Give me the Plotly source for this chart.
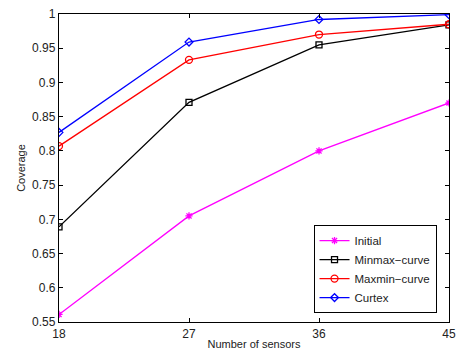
import plotly.graph_objects as go

sensors = [18, 27, 36, 45]
initial = [0.561, 0.705, 0.800, 0.870]
minmax = [0.689, 0.871, 0.955, 0.984]
maxmin = [0.807, 0.933, 0.970, 0.985]
curtex = [0.827, 0.959, 0.992, 0.999]
y_ticks = [0.55, 0.6, 0.65, 0.7, 0.75, 0.8, 0.85, 0.9, 0.95, 1.0]
y_tick_labels = ["0.55", "0.6", "0.65", "0.7", "0.75", "0.8", "0.85", "0.9", "0.95", "1"]

fig = go.Figure()
series = [
    ("Initial", initial, "#ff00ff", "asterisk-open", 6),
    ("Minmax\u2212curve", minmax, "#000000", "square-open", 6),
    ("Maxmin\u2212curve", maxmin, "#ff0000", "circle-open", 7),
    ("Curtex", curtex, "#0000ff", "diamond-open", 6),
]
for name, vals, color, sym, sz in series:
    fig.add_trace(go.Scatter(
        x=sensors, y=vals, name=name, mode="lines+markers",
        line=dict(color=color, width=1.3),
        marker=dict(symbol=sym, size=sz, color=color, line=dict(color=color, width=1.3)),
    ))

axis_common = dict(
    showline=True, linecolor="black", linewidth=1.3, mirror="ticks",
    ticks="inside", ticklen=4, tickcolor="black", showgrid=False, zeroline=False,
    automargin=False,
    tickfont=dict(family="Liberation Sans, Arial", size=12, color="#222"),
)
fig.update_xaxes(range=[18, 45], tickvals=sensors, ticktext=[str(s) for s in sensors],
                 title=dict(text="Number of sensors", font=dict(family="Liberation Sans, Arial", size=11, color="#222"), standoff=0),
                 **axis_common)
fig.update_yaxes(range=[0.55, 1.0], tickvals=y_ticks, ticktext=y_tick_labels,
                 title=dict(text="Coverage", font=dict(family="Liberation Sans, Arial", size=11, color="#222"), standoff=4),
                 **axis_common)

fig.update_layout(
    width=462, height=353,
    margin=dict(l=59, r=13, t=14, b=31),
    paper_bgcolor="white", plot_bgcolor="white",
    showlegend=True,
    legend=dict(x=0.968, y=0.029, xanchor="right", yanchor="bottom",
                bordercolor="black", borderwidth=1, bgcolor="white",
                font=dict(family="Liberation Sans, Arial", size=11.5, color="#222"),
                tracegroupgap=0, itemwidth=30),
)
fig.write_html("out.html")
